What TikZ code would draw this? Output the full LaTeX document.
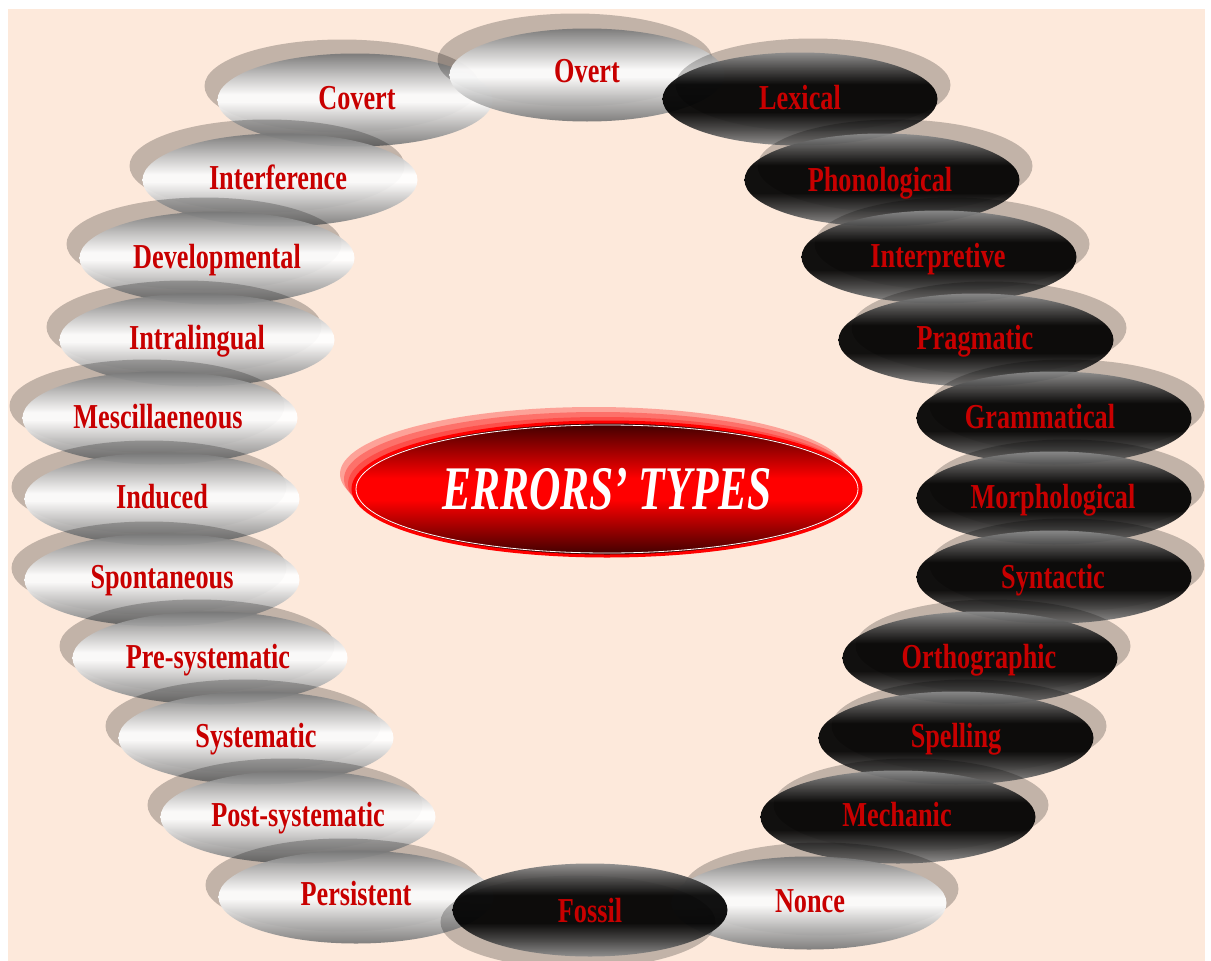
\documentclass[tikz,border=0pt]{standalone}
\usepackage{fontspec}
\setmainfont{Liberation Serif}
\newfontfamily\labfont[FakeStretch=0.75]{Liberation Serif}
\newfontfamily\titlefont[FakeStretch=0.70]{Liberation Serif}
\usetikzlibrary{shapes.geometric}

\definecolor{peach}{HTML}{FDE9DB}
\definecolor{labred}{HTML}{C80000}
\definecolor{eggrey}{gray}{0.47}
\definecolor{eggmid}{gray}{0.75}
\definecolor{bgrey}{gray}{0.55}
\definecolor{bmid}{gray}{0.25}
\definecolor{reddark}{HTML}{3A0000}
\definecolor{redbright}{HTML}{FF0000}

\pgfdeclareverticalshading{whiteegg}{100bp}{color(0bp)=(eggrey); color(25bp)=(eggrey); color(38bp)=(eggmid); color(49bp)=(white); color(53bp)=(white); color(64bp)=(eggmid); color(75bp)=(eggrey); color(100bp)=(eggrey)}
\pgfdeclareverticalshading{blackegg}{100bp}{color(0bp)=(bgrey); color(25bp)=(bgrey); color(34bp)=(bmid); color(43bp)=(black); color(58bp)=(black); color(66bp)=(bmid); color(75bp)=(bgrey); color(100bp)=(bgrey)}
\pgfdeclareverticalshading{redegg}{100bp}{color(0bp)=(reddark); color(25bp)=(reddark); color(46bp)=(redbright); color(54bp)=(redbright); color(75bp)=(reddark); color(100bp)=(reddark)}

\tikzset{
  oval/.style={ellipse, minimum width=275pt, minimum height=93pt, inner sep=0pt, fill opacity=0.93, shade},
  wov/.style={oval, shading=whiteegg},
  bov/.style={oval, shading=blackegg},
  eggshadow/.style={fill=black, fill opacity=0.23},
  lab/.style={font=\labfont\bfseries\fontsize{35}{40}\selectfont, text=labred, inner sep=0pt, anchor=base},
  halo/.style={fill=red, fill opacity=0.3},
  titlenode/.style={font=\titlefont\bfseries\itshape\fontsize{62}{70}\selectfont, text=white, inner sep=0pt, anchor=base}
}

% name, x, y, shadow dx, shadow dy, style
\newcommand{\egg}[6]{%
  \fill[eggshadow] (#2+#4,#3+#5) ellipse [x radius=137.5pt, y radius=46.5pt];
  \node[#6] (#1) at (#2,#3) {};
}

\begin{document}
\begin{tikzpicture}[x=1pt,y=-1pt]
\useasboundingbox (0,0) rectangle (1211,961);
\fill[white] (0,0) rectangle (1211,961);
\fill[peach] (8,9) rectangle (1205,961);

% left column, top to bottom
\egg{covert}{355}{100}{-13}{-14}{wov}
\egg{interference}{280}{180}{-13}{-14}{wov}
\egg{developmental}{217}{258}{-13}{-14}{wov}
\egg{intralingual}{197}{340}{-13}{-13}{wov}
\egg{mescill}{160}{418}{-13}{-12}{wov}
\egg{induced}{162}{499}{-13}{-12}{wov}
\egg{spontaneous}{162}{580}{-13}{-12}{wov}
\egg{presys}{210}{658}{-13}{-12}{wov}
\egg{systematic}{256}{738}{-13}{-12}{wov}
\egg{postsys}{298}{817}{-13}{-12}{wov}
\egg{persistent}{356}{897}{-13}{-12}{wov}
\egg{overt}{587}{75}{-12}{-15}{wov}
% right column, top to bottom
\egg{lexical}{800}{99}{13}{-14}{bov}
\egg{phonological}{882}{180}{13}{-14}{bov}
\egg{interpretive}{939}{257}{13}{-13}{bov}
\egg{pragmatic}{976}{340}{13}{-12}{bov}
\egg{grammatical}{1054}{418}{13}{-12}{bov}
\egg{morphological}{1054}{498}{13}{-12}{bov}
\egg{syntactic}{1054}{577}{13}{-12}{bov}
\egg{orthographic}{980}{658}{13}{-12}{bov}
\egg{spelling}{956}{738}{13}{-12}{bov}
\egg{mechanic}{898}{817}{13}{-12}{bov}
\egg{nonce}{809}{903}{12}{-14}{wov}
\egg{fossil}{590}{910}{-12}{12}{bov}

% centre ellipse with halo
\fill[halo] (594,474) ellipse [x radius=254pt, y radius=67pt];
\fill[halo] (598,479) ellipse [x radius=254pt, y radius=67pt];
\fill[halo] (602,484) ellipse [x radius=254pt, y radius=67pt];
\node[ellipse, minimum width=508pt, minimum height=134pt, inner sep=0pt,
      shade, shading=redegg, draw=red, line width=3pt] (centre) at (607,489) {};
\draw[white, line width=0.8pt] (607,489) ellipse [x radius=251pt, y radius=64pt];
\node[titlenode] (title) at (607,509) {ERRORS’ TYPES};

% labels (baselines)
\node[lab] (t-overt) at (587,82) {Overt};
\node[lab] (t-covert) at (357,109) {Covert};
\node[lab] (t-interference) at (278,189) {Interference};
\node[lab] (t-developmental) at (217,268) {Developmental};
\node[lab] (t-intralingual) at (197,349) {Intralingual};
\node[lab] (t-mescill) at (158,428) {Mescillaeneous};
\node[lab] (t-induced) at (162,508) {Induced};
\node[lab] (t-spontaneous) at (162,588) {Spontaneous};
\node[lab] (t-presys) at (208,668) {Pre-systematic};
\node[lab] (t-systematic) at (256,747) {Systematic};
\node[lab] (t-postsys) at (298,826) {Post-systematic};
\node[lab] (t-persistent) at (356,905) {Persistent};
\node[lab] (t-fossil) at (590,922) {Fossil};
\node[lab] (t-nonce) at (810,912) {Nonce};
\node[lab] (t-mechanic) at (897,826) {Mechanic};
\node[lab] (t-spelling) at (956,747) {Spelling};
\node[lab] (t-orthographic) at (979,668) {Orthographic};
\node[lab] (t-syntactic) at (1053,588) {Syntactic};
\node[lab] (t-morphological) at (1053,508) {Morphological};
\node[lab] (t-grammatical) at (1040,428) {Grammatical};
\node[lab] (t-pragmatic) at (975,349) {Pragmatic};
\node[lab] (t-interpretive) at (938,267) {Interpretive};
\node[lab] (t-phonological) at (880,191) {Phonological};
\node[lab] (t-lexical) at (800,109) {Lexical};
\end{tikzpicture}
\end{document}
